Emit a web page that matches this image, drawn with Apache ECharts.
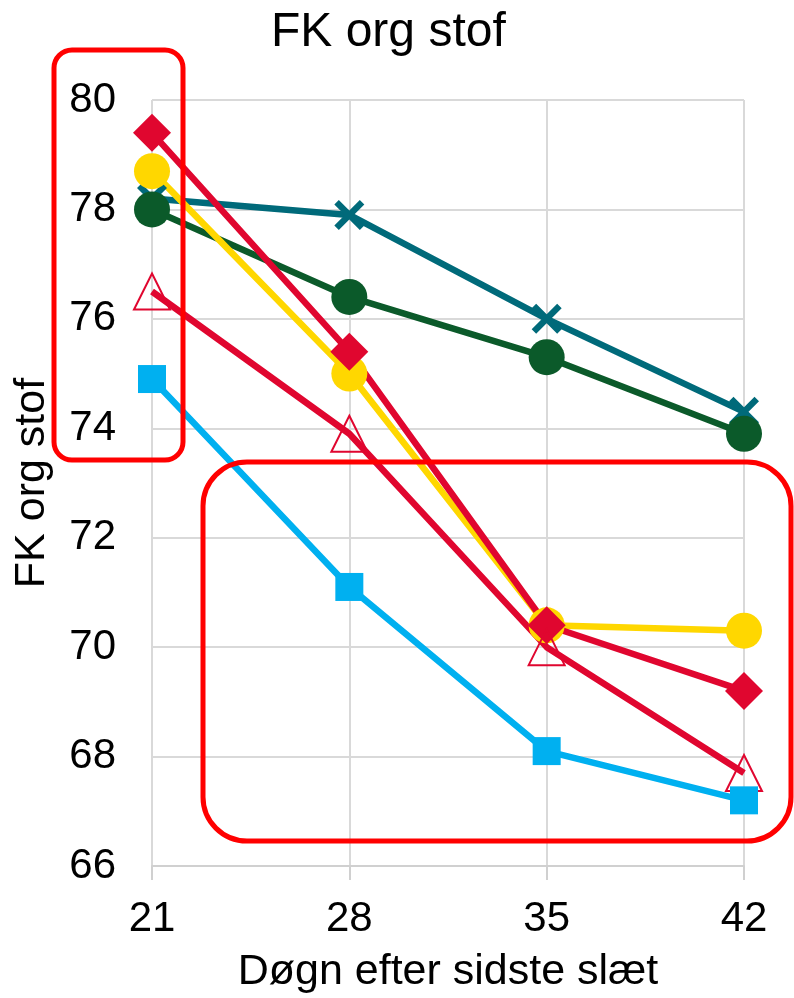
<!DOCTYPE html>
<html>
<head>
<meta charset="utf-8">
<script src="https://cdn.jsdelivr.net/npm/echarts@6/dist/echarts.min.js"></script>
<style>
  html, body { margin: 0; padding: 0; background: #ffffff; }
  #chart { width: 794px; height: 998px; }
</style>
</head>
<body>
<div id="chart"></div>
<script>
// Days after the last cut
const days = [21, 28, 35, 42];

// FK org stof per treatment
const seriesTeal   = [78.2, 77.9, 76.0, 74.3];
const seriesGreen  = [78.0, 76.4, 75.3, 73.9];
const seriesYellow = [78.7, 75.0, 70.4, 70.3];
const seriesRed    = [79.4, 75.4, 70.4, 69.2];
const seriesTri    = [76.5, 73.9, 70.0, 67.7];
const seriesBlue   = [74.9, 71.1, 68.1, 67.2];

const yTicks = [66, 68, 70, 72, 74, 76, 78, 80];
const xTicks = [21, 28, 35, 42];

const FONT = '"Liberation Sans", Arial, sans-serif';
const pair = (vals) => days.map((d, i) => [d, vals[i]]);

// thick diagonal cross
const CROSS = 'path://M0,3 L3,0 L10,7 L17,0 L20,3 L13,10 L20,17 L17,20 L10,13 L3,20 L0,17 L7,10 Z';

function line(vals, color, symbol, size, extra) {
  return Object.assign({
    type: 'line',
    data: pair(vals),
    symbol: symbol,
    symbolSize: size,
    lineStyle: { color: color, width: 6.5 },
    itemStyle: { color: color },
    emphasis: { disabled: true },
    animation: false
  }, extra || {});
}

const chart = echarts.init(document.getElementById('chart'), null, { renderer: 'canvas' });
chart.setOption({
  backgroundColor: '#ffffff',
  title: {
    text: 'FK org stof',
    left: 266,
    top: 4,
    textStyle: { fontFamily: FONT, fontSize: 48, fontWeight: 'normal', color: '#000' }
  },
  grid: { left: 152, right: 50, top: 100, bottom: 132, outerBoundsMode: 'none' },
  xAxis: {
    type: 'value',
    min: 21, max: 42, interval: 7,
    name: 'Døgn efter sidste slæt',
    nameLocation: 'middle',
    nameGap: 85,
    nameTextStyle: { fontFamily: FONT, fontSize: 43, color: '#000' },
    axisLine: { show: true, lineStyle: { color: '#D0D0D0', width: 2 } },
    axisTick: { show: true, length: 14, lineStyle: { color: '#D0D0D0', width: 2 } },
    axisLabel: {
      fontFamily: FONT, fontSize: 42, color: '#000', margin: 32,
      formatter: (v) => xTicks.includes(v) ? String(v) : ''
    },
    splitLine: { show: true, lineStyle: { color: '#D9D9D9', width: 2 } }
  },
  yAxis: {
    type: 'value',
    min: 66, max: 80, interval: 2,
    name: 'FK org stof',
    nameLocation: 'middle',
    nameGap: 98,
    nameTextStyle: { fontFamily: FONT, fontSize: 43, color: '#000' },
    axisLine: { show: false },
    axisTick: { show: false },
    axisLabel: {
      fontFamily: FONT, fontSize: 42, color: '#000', margin: 36,
      formatter: (v) => yTicks.includes(v) ? String(v) : ''
    },
    splitLine: { show: true, lineStyle: { color: '#D9D9D9', width: 2 } }
  },
  series: [
    line(seriesTeal, '#006A7A', CROSS, 30),
    line(seriesGreen, '#0B5A2A', 'circle', 36),
    line(seriesYellow, '#FFD700', 'circle', 36),
    line(seriesRed, '#E0062F', 'diamond', 38),
    line(seriesTri, '#E0062F', 'triangle', 36, {
      itemStyle: { color: 'rgba(255,255,255,0)', borderColor: '#E0062F', borderWidth: 2 }
    }),
    line(seriesBlue, '#00B0F0', 'rect', 28)
  ],
  graphic: [
    {
      type: 'rect', z: 100,
      shape: { x: 54, y: 50, width: 129, height: 410, r: 18 },
      style: { fill: 'none', stroke: '#FF0000', lineWidth: 5 }
    },
    {
      type: 'rect', z: 100,
      shape: { x: 203, y: 462, width: 588, height: 379, r: 44 },
      style: { fill: 'none', stroke: '#FF0000', lineWidth: 5 }
    }
  ]
});
</script>
</body>
</html>
